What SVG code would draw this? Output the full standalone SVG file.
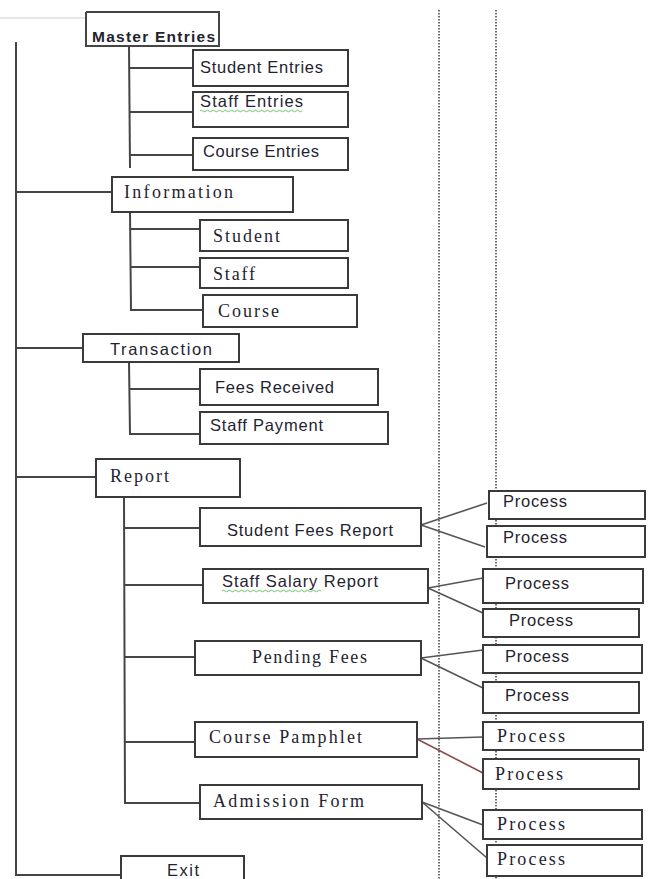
<svg xmlns="http://www.w3.org/2000/svg" width="663" height="879" viewBox="0 0 663 879">
  <style>
    .box { fill: #ffffff; stroke: #3a3a3a; stroke-width: 2; }
    .ln { fill: none; stroke: #454545; stroke-width: 2; }
    .thin { fill: none; stroke: #555555; stroke-width: 1.6; }
    .dot { fill: none; stroke: #222222; stroke-width: 1.3; stroke-dasharray: 1.4 1.6; }
    .sans { font-family: "Liberation Sans", Arial, sans-serif; font-size: 16.5px; fill: #1f2330; }
    .bold { font-weight: bold; font-size: 15.5px; }
    .serif { font-family: "Liberation Serif", "Times New Roman", serif; font-size: 18px; fill: #1f2330; }
  </style>
  <rect x="0" y="0" width="663" height="879" fill="#ffffff"/>

  <!-- vertical dotted guides -->
  <g id="guides">
    <line class="dot" x1="439" y1="10" x2="439" y2="879"/>
    <line class="dot" x1="496" y1="10" x2="496" y2="879"/>
  </g>

  <!-- connectors -->
  <g id="connectors">
    <line x1="0" y1="18" x2="86" y2="18" stroke="#cfcfcf" stroke-width="1.2"/>
    <!-- main spine -->
    <polyline class="ln" points="16,42 16,875 121,875"/>
    <line class="ln" x1="16" y1="192" x2="112" y2="192"/>
    <line class="ln" x1="16" y1="348" x2="83" y2="348"/>
    <line class="ln" x1="16" y1="477" x2="96" y2="477"/>
    <!-- master entries -->
    <line class="ln" x1="129" y1="46" x2="130" y2="168"/>
    <line class="ln" x1="130" y1="68" x2="193" y2="68"/>
    <line class="ln" x1="130" y1="112" x2="193" y2="112"/>
    <line class="ln" x1="130" y1="155" x2="193" y2="155"/>
    <!-- information -->
    <polyline class="ln" points="130,212 131,310 203,310"/>
    <line class="ln" x1="130" y1="229" x2="200" y2="229"/>
    <line class="ln" x1="131" y1="267" x2="200" y2="267"/>
    <!-- transaction -->
    <polyline class="ln" points="129,362 130,434 200,434"/>
    <line class="ln" x1="130" y1="389" x2="200" y2="389"/>
    <!-- report -->
    <polyline class="ln" points="124,497 125,803 200,803"/>
    <line class="ln" x1="124" y1="528" x2="200" y2="528"/>
    <line class="ln" x1="124" y1="585" x2="203" y2="585"/>
    <line class="ln" x1="124" y1="657" x2="195" y2="657"/>
    <line class="ln" x1="124" y1="742" x2="195" y2="742"/>
    <!-- report to process -->
    <line class="thin" x1="421" y1="525" x2="487" y2="503"/>
    <line class="thin" x1="421" y1="525" x2="485" y2="547"/>
    <line class="thin" x1="428" y1="588" x2="483" y2="578"/>
    <line class="thin" x1="428" y1="588" x2="483" y2="613"/>
    <line class="thin" x1="421" y1="658" x2="483" y2="650"/>
    <line class="thin" x1="421" y1="658" x2="483" y2="688"/>
    <line class="thin" x1="417" y1="739" x2="483" y2="737"/>
    <line x1="417" y1="739" x2="483" y2="773" stroke="#8a4a4a" stroke-width="1.6"/>
    <line class="thin" x1="422" y1="802" x2="483" y2="825"/>
    <line class="thin" x1="422" y1="802" x2="487" y2="858"/>
  </g>

  <g id="master-entries">
    <polyline class="ln" points="86,12 219,12 219,46 86,46 86,12"/>
    <text class="sans bold" x="92" y="42" textLength="123">Master Entries</text>
  </g>
  <g id="student-entries">
    <rect class="box" x="193" y="50" width="155" height="36"/>
    <text class="sans" x="200" y="73" textLength="123">Student Entries</text>
  </g>
  <g id="staff-entries">
    <rect class="box" x="193" y="92" width="155" height="35"/>
    <text class="sans" x="200" y="107" textLength="103">Staff  Entries</text>
    <path d="M200,111 q1.5,-1.5 3,0 t3,0 t3,0 t3,0 t3,0 t3,0 t3,0 t3,0 t3,0 t3,0 t3,0 t3,0 t3,0 t3,0 t3,0 t3,0 t3,0 t3,0 t3,0 t3,0 t3,0 t3,0 t3,0 t3,0 t3,0 t3,0 t3,0 t3,0 t3,0 t3,0 t3,0 t3,0 t3,0 t3,0" fill="none" stroke="#5fbf5f" stroke-width="0.9"/>
  </g>
  <g id="course-entries">
    <rect class="box" x="193" y="138" width="155" height="32"/>
    <text class="sans" x="203" y="157" textLength="116">Course Entries</text>
  </g>

  <g id="information">
    <rect class="box" x="112" y="177" width="181" height="35"/>
    <text class="serif" x="124" y="198" textLength="109">Information</text>
  </g>
  <g id="info-student">
    <rect class="box" x="200" y="220" width="148" height="31"/>
    <text class="serif" x="213" y="242" textLength="67">Student</text>
  </g>
  <g id="info-staff">
    <rect class="box" x="200" y="258" width="148" height="30"/>
    <text class="serif" x="213" y="280" textLength="42">Staff</text>
  </g>
  <g id="info-course">
    <rect class="box" x="203" y="295" width="154" height="32"/>
    <text class="serif" x="218" y="317" textLength="61">Course</text>
  </g>

  <g id="transaction">
    <rect class="box" x="83" y="334" width="156" height="28"/>
    <text class="sans" x="110" y="355" textLength="102">Transaction</text>
  </g>
  <g id="fees-received">
    <rect class="box" x="200" y="369" width="178" height="36"/>
    <text class="sans" x="215" y="393" textLength="119">Fees Received</text>
  </g>
  <g id="staff-payment">
    <rect class="box" x="200" y="412" width="188" height="32"/>
    <text class="sans" x="210" y="431" textLength="113">Staff Payment</text>
  </g>

  <g id="report">
    <rect class="box" x="96" y="459" width="144" height="38"/>
    <text class="serif" x="110" y="482" textLength="59">Report</text>
  </g>
  <g id="student-fees-report">
    <rect class="box" x="200" y="508" width="221" height="38"/>
    <text class="sans" x="227" y="536" textLength="166">Student Fees Report</text>
  </g>
  <g id="staff-salary-report">
    <rect class="box" x="203" y="569" width="225" height="34"/>
    <text class="sans" x="222" y="587" textLength="156">Staff  Salary Report</text>
    <path d="M222,591 q1.5,-1.5 3,0 t3,0 t3,0 t3,0 t3,0 t3,0 t3,0 t3,0 t3,0 t3,0 t3,0 t3,0 t3,0 t3,0 t3,0 t3,0 t3,0 t3,0 t3,0 t3,0 t3,0 t3,0 t3,0 t3,0 t3,0 t3,0 t3,0 t3,0 t3,0 t3,0 t3,0 t3,0 t3,0" fill="none" stroke="#5fbf5f" stroke-width="0.9"/>
  </g>
  <g id="pending-fees">
    <rect class="box" x="195" y="641" width="226" height="34"/>
    <text class="serif" x="252" y="663" textLength="115">Pending Fees</text>
  </g>
  <g id="course-pamphlet">
    <rect class="box" x="195" y="722" width="222" height="35"/>
    <text class="serif" x="209" y="743" textLength="153">Course Pamphlet</text>
  </g>
  <g id="admission-form">
    <rect class="box" x="200" y="785" width="222" height="34"/>
    <text class="serif" x="213" y="807" textLength="151">Admission Form</text>
  </g>
  <g id="exit">
    <rect class="box" x="121" y="856" width="123" height="30"/>
    <text class="sans" x="167" y="876" font-size="14" textLength="32">Exit</text>
  </g>

  <!-- process boxes -->
  <g id="process-1">
    <rect class="box" x="489" y="491" width="156" height="28"/>
    <text class="sans" x="503" y="507" textLength="64">Process</text>
  </g>
  <g id="process-2">
    <rect class="box" x="487" y="526" width="158" height="31"/>
    <text class="sans" x="503" y="543" textLength="64">Process</text>
  </g>
  <g id="process-3">
    <rect class="box" x="483" y="569" width="160" height="34"/>
    <text class="sans" x="505" y="589" textLength="64">Process</text>
  </g>
  <g id="process-4">
    <rect class="box" x="483" y="609" width="156" height="28"/>
    <text class="sans" x="509" y="626" textLength="64">Process</text>
  </g>
  <g id="process-5">
    <rect class="box" x="483" y="645" width="159" height="28"/>
    <text class="sans" x="505" y="662" textLength="64">Process</text>
  </g>
  <g id="process-6">
    <rect class="box" x="483" y="682" width="156" height="31"/>
    <text class="sans" x="505" y="701" textLength="64">Process</text>
  </g>
  <g id="process-7">
    <rect class="box" x="483" y="722" width="160" height="28"/>
    <text class="serif" x="497" y="742" textLength="68">Process</text>
  </g>
  <g id="process-8">
    <rect class="box" x="483" y="759" width="156" height="30"/>
    <text class="serif" x="495" y="780" textLength="68">Process</text>
  </g>
  <g id="process-9">
    <rect class="box" x="483" y="810" width="159" height="29"/>
    <text class="serif" x="497" y="830" textLength="68">Process</text>
  </g>
  <g id="process-10">
    <rect class="box" x="487" y="845" width="155" height="31"/>
    <text class="serif" x="497" y="865" textLength="68">Process</text>
  </g>
</svg>
